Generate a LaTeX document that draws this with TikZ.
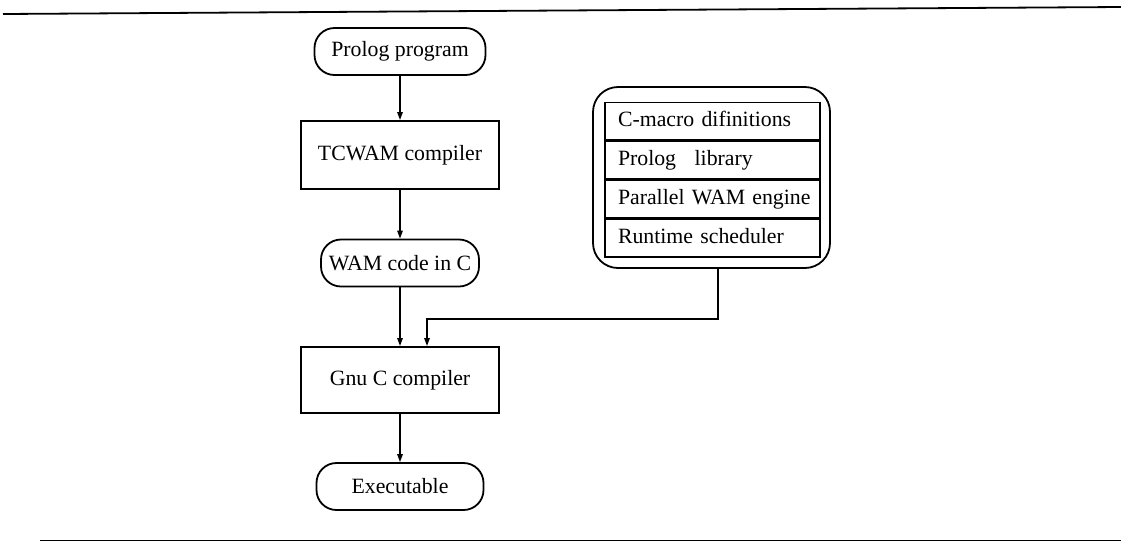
\documentclass[tikz,border=0pt]{standalone}
\usepackage{fontspec}
\setmainfont{Liberation Serif}
\usetikzlibrary{arrows.meta}
\begin{document}
\begin{tikzpicture}[x=1pt,y=-1pt,
  every node/.style={font=\fontsize{21.8}{25}\selectfont, inner sep=0pt},
  term/.style={draw, line width=1.8pt, rounded corners=20pt, minimum height=47pt},
  proc/.style={draw, line width=2pt, minimum width=198pt, minimum height=68pt},
  row/.style={draw, line width=1.3pt, text width=215pt, align=left,
              execute at begin node={\hspace*{13pt}}, minimum height=37.7pt,
              text height=15pt, text depth=5pt},
  arr/.style={line width=1.4pt, -{Triangle[length=8pt,width=5.5pt]}},
  rule/.style={line width=1.8pt}
]
\useasboundingbox (0,0) rectangle (1121,542);

% horizontal rules framing the figure
\draw[rule] (3,14) -- (1121,7);
\draw[rule, line width=1.3pt] (40,540.5) -- (1121,540.5);

% main compilation chain
\node[term, minimum width=171pt] (src)  at (400,51.5) {Prolog program};
\node[proc]                      (tcw)  at (400,155)  {TCWAM compiler};
\node[term, minimum width=158pt] (wam)  at (400,263)  {WAM code in C};
\node[proc, minimum height=66pt] (gcc)  at (400,380)  {Gnu C compiler};
\node[term, minimum width=167pt] (exe)  at (400,486.5) {Executable};

% runtime library bundle
\node[draw, line width=1.8pt, rounded corners=25pt,
      minimum width=237pt, minimum height=181pt] (lib) at (711.5,177.5) {};
\node[row] (r1) at (712.5,121)   {C-macro difinitions};
\node[row, anchor=north] (r2) at (r1.south) {Prolog\hspace{0.85em}library};
\node[row, anchor=north] (r3) at (r2.south) {Parallel WAM engine};
\node[row, anchor=north] (r4) at (r3.south) {Runtime scheduler};

% connectors
\draw[arr] (src.south) -- (tcw.north);
\draw[arr] (tcw.south) -- (wam.north);
\draw[arr] (wam.south) -- (gcc.north);
\draw[arr] (gcc.south) -- (exe.north);
\draw[arr] ([xshift=6.5pt]lib.south) |- ([xshift=27pt,yshift=27pt]gcc.north)
           -- ([xshift=27pt]gcc.north);
\end{tikzpicture}
\end{document}
